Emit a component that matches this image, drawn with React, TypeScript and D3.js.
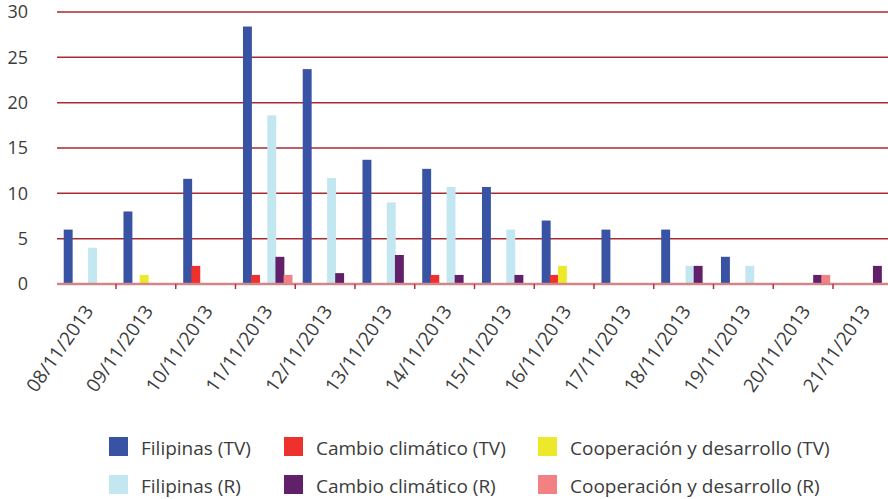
import React from "react";
import * as d3 from "d3";

const dates = [
  "08/11/2013", "09/11/2013", "10/11/2013", "11/11/2013", "12/11/2013", "13/11/2013", "14/11/2013",
  "15/11/2013", "16/11/2013", "17/11/2013", "18/11/2013", "19/11/2013", "20/11/2013", "21/11/2013",
];

const seriesNames = [
  "Filipinas (TV)", "Cambio climático (TV)", "Cooperación y desarrollo (TV)",
  "Filipinas (R)", "Cambio climático (R)", "Cooperación y desarrollo (R)",
];

const filipinasTV = [6, 8, 11.6, 28.4, 23.7, 13.7, 12.7, 10.7, 7, 6, 6, 3, 0, 0];
const cambioTV = [0, 0, 2, 1, 0, 0, 1, 0, 1, 0, 0, 0, 0, 0];
const coopTV = [0, 1, 0, 0, 0, 0, 0, 0, 2, 0, 0, 0, 0, 0];
const filipinasR = [4, 0, 0, 18.6, 11.7, 9, 10.7, 6, 0, 0, 2, 2, 0, 0];
const cambioR = [0, 0, 0, 3, 1.2, 3.2, 1, 1, 0, 0, 2, 0, 1, 2];
const coopR = [0, 0, 0, 1, 0, 0, 0, 0, 0, 0, 0, 0, 1, 0];

const yTicks = [0, 5, 10, 15, 20, 25, 30];

const colors = ["#3953a4", "#ee312c", "#ede92a", "#c3e7f0", "#63206a", "#f28184"];

const W = 888, H = 499;
const font = "'Open Sans', 'Noto Sans', sans-serif";

export default function App() {
  const series = [filipinasTV, cambioTV, coopTV, filipinasR, cambioR, coopR];

  const x = d3.scaleBand<string>().domain(dates).range([56.25, 892.75]).padding(0);
  const bw = x.bandwidth();
  const inner = d3
    .scaleBand<number>()
    .domain(d3.range(series.length))
    .range([bw * 0.125, bw * 0.94])
    .padding(0);
  const y = d3.scaleLinear().domain([0, 30]).range([284, 12]);

  // legend: 3 columns x 2 rows
  const legendX = [109, 284, 538];
  const legendY = [437, 475];

  return (
    <div>
      <style>{`body{margin:0}`}</style>
      <svg width={W} height={H} style={{ display: "block", background: "#fff" }}>
        {/* gridlines */}
        {yTicks.filter((t) => t > 0).map((t) => (
          <line key={t} x1={57} x2={W} y1={y(t)} y2={y(t)} stroke="#a92a32" strokeWidth={1.5} />
        ))}

        {/* bars */}
        {series.map((vals, si) => (
          <g key={si} fill={colors[si]}>
            {vals.map((v, i) =>
              v > 0 ? (
                <rect
                  key={i}
                  x={(x(dates[i]) as number) + (inner(si) as number)}
                  width={inner.bandwidth() * 1.1}
                  y={y(v)}
                  height={y(0) - y(v)}
                />
              ) : null
            )}
          </g>
        ))}

        {/* x axis */}
        <line x1={57} x2={W} y1={y(0)} y2={y(0)} stroke="#d3868a" strokeWidth={2.5} />
        {dates.slice(1).map((d) => (
          <line key={d} x1={x(d)} x2={x(d)} y1={y(0)} y2={y(0) + 5} stroke="#b3333b" strokeWidth={1.5} />
        ))}

        {/* y labels */}
        {yTicks.map((t) => (
          <text
            key={t}
            x={28}
            y={y(t)}
            dy="0.36em"
            textAnchor="end"
            fontFamily={font}
            fontSize={18}
            fill="#3c3c3c"
          >
            {t}
          </text>
        ))}

        {/* x labels */}
        {dates.map((d) => (
          <text
            key={d}
            transform={`translate(${(x(d) as number) + bw / 2 + 8},311) rotate(-55)`}
            textAnchor="end"
            fontFamily={font}
            fontSize={19}
            fill="#3c3c3c"
          >
            {d}
          </text>
        ))}

        {/* legend */}
        {seriesNames.map((name, i) => {
          const col = i % 3;
          const row = Math.floor(i / 3);
          return (
            <g key={name}>
              <rect x={legendX[col]} y={legendY[row]} width={19} height={19} fill={colors[i]} />
              <text
                x={legendX[col] + 32}
                y={legendY[row] + 18}
                fontFamily={font}
                fontSize={19}
                fill="#3c3c3c"
              >
                {name}
              </text>
            </g>
          );
        })}
      </svg>
    </div>
  );
}
